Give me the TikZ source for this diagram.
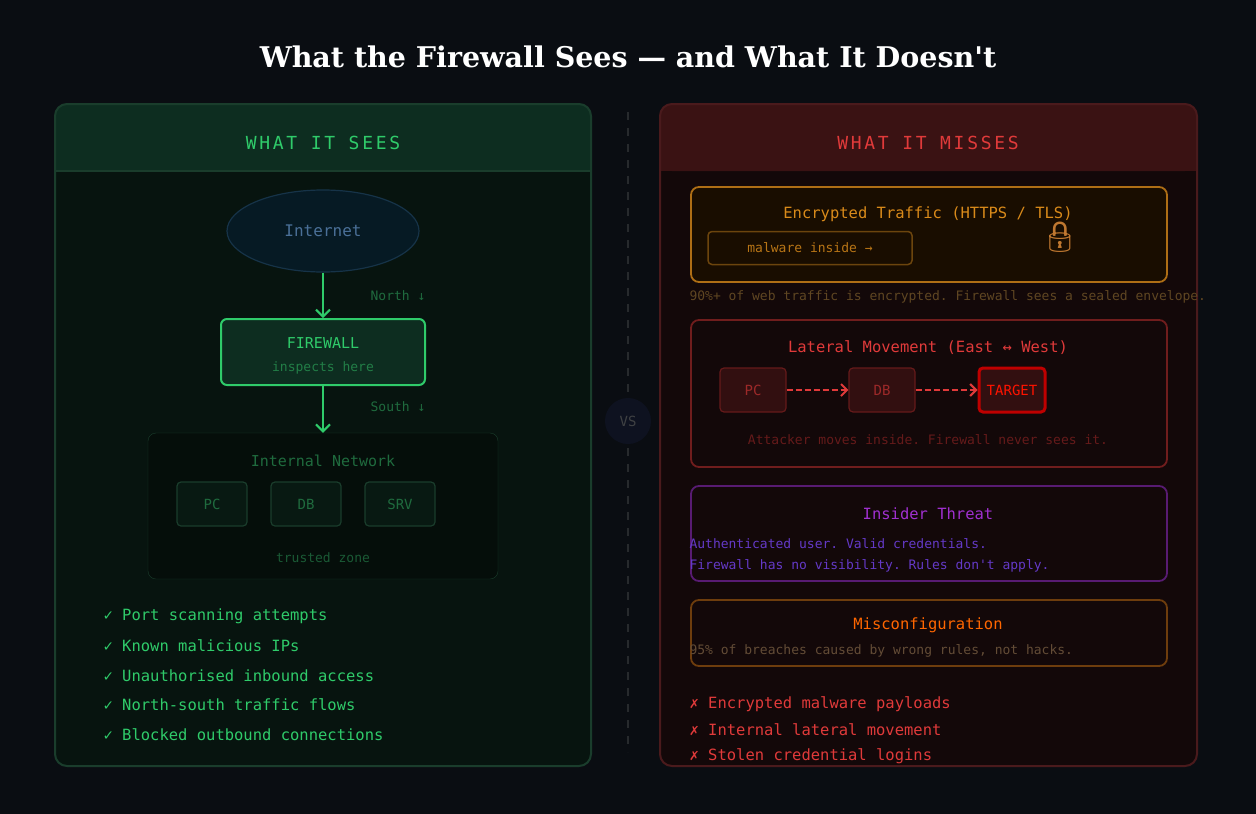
\documentclass[tikz,border=0pt]{standalone}
\usepackage{fontspec}
\setmonofont{DejaVu Sans Mono}
\newfontfamily\titlefont{DejaVu Serif}
\newfontfamily\emojifont{Noto Emoji}
\usetikzlibrary{arrows.meta,shapes.geometric}
\definecolor{bg}{HTML}{0A0D12}
\definecolor{gpanel}{HTML}{07140F}
\definecolor{ghead}{HTML}{0D2D20}
\definecolor{gborder}{HTML}{1A3D2C}
\definecolor{gtext}{HTML}{2FCB6A}
\definecolor{gdim}{HTML}{1F6B3E}
\definecolor{rpanel}{HTML}{130809}
\definecolor{rhead}{HTML}{3A1213}
\definecolor{rborder}{HTML}{4A1A1C}
\definecolor{rtext}{HTML}{E03A3A}
\definecolor{orng}{HTML}{D98A1A}
\definecolor{purp}{HTML}{A030D0}
\definecolor{vsfill}{HTML}{0E1220}
\definecolor{inetdraw}{HTML}{163348}
\definecolor{inetfill}{HTML}{061A24}
\definecolor{inettext}{HTML}{4A7098}
\definecolor{lockcol}{HTML}{C07830}
\newcommand{\fs}[1]{\fontsize{#1pt}{\dimexpr #1pt*5/4\relax}\selectfont}
\tikzset{
  mono/.style={font=\ttfamily\fs{14}},
  smallbox/.style={draw, rounded corners=4pt, line width=1.2pt, minimum width=70pt, minimum height=44pt, mono},
}
\begin{document}
\begin{tikzpicture}[x=1pt,y=-1pt]
\fill[bg] (0,0) rectangle (1256,814);
\useasboundingbox (0,0) rectangle (1256,814);
\node[text=white, font=\titlefont\bfseries\fs{28.5}] (title) at (628,57) {What the Firewall Sees — and What It Doesn't};
% divider
\draw[gray!25!bg, dash pattern=on 8pt off 8pt, line width=1.5pt] (628,112) -- (628,752);
\node[circle, fill=vsfill, minimum size=46pt, text=gray!45!bg, mono] (vs) at (628,421) {VS};
% left panel
\fill[gpanel, rounded corners=12pt] (55,104) rectangle (591,766);
\fill[ghead, rounded corners=12pt] (55,104) rectangle (591,171);
\fill[ghead] (55,150) rectangle (591,171);
\draw[gborder, line width=2pt, rounded corners=12pt] (55,104) rectangle (591,766);
\draw[gborder, line width=1.5pt] (55,171) -- (591,171);
\node[text=gtext, font=\ttfamily\fs{18}] (seeshead) at (323,143) {\addfontfeature{LetterSpace=15}WHAT IT SEES};
\node[ellipse, draw=inetdraw, fill=inetfill, line width=1.2pt, minimum width=192pt, minimum height=82pt, text=inettext, font=\ttfamily\fs{16}] (inet) at (323,231) {Internet};
\node[draw=gtext, fill=ghead, line width=2pt, rounded corners=6pt, minimum width=204pt, minimum height=66pt] (fw) at (323,352) {};
\node[text=gtext, font=\ttfamily\fs{15}] (fwl) at (323,343) {FIREWALL};
\node[text=gdim!80!gtext, font=\ttfamily\fs{13}] (fwi) at (323,368) {inspects here};
\node[draw=gborder, fill=black!30!gpanel, rounded corners=8pt, minimum width=350pt, minimum height=146pt] (net) at (323,506) {};
\draw[-{Straight Barb[length=7pt,width=14pt]}, gtext, line width=2pt] (inet) -- (fw);
\draw[-{Straight Barb[length=7pt,width=14pt]}, gtext, line width=2pt] (fw) -- (net.north);
\node[text=gdim, font=\ttfamily\fs{13}] (north) at (398,296) {North ↓};
\node[text=gdim, font=\ttfamily\fs{13}] (south) at (398,407) {South ↓};
\node[text=gdim, font=\ttfamily\fs{15}] (netl) at (323,461) {Internal Network};
\node[smallbox, draw=gborder, fill=gpanel!80!ghead, text=gdim] (pc) at (212,504) {PC};
\node[smallbox, draw=gborder, fill=gpanel!80!ghead, text=gdim] (db) at (306,504) {DB};
\node[smallbox, draw=gborder, fill=gpanel!80!ghead, text=gdim] (srv) at (400,504) {SRV};
\node[text=gdim!80!gpanel, font=\ttfamily\fs{13}] (tz) at (323,558) {trusted zone};
\foreach \t [count=\i] in {Port scanning attempts, Known malicious IPs, Unauthorised inbound access, North-south traffic flows, Blocked outbound connections}{
  \node[anchor=west, text=gtext, font=\ttfamily\fs{15.5}] (s\i) at (100,587+29.5*\i) {✓ \t};
}
% right panel
\fill[rpanel, rounded corners=12pt] (660,104) rectangle (1197,766);
\fill[rhead, rounded corners=12pt] (660,104) rectangle (1197,171);
\fill[rhead] (660,150) rectangle (1197,171);
\draw[rborder, line width=2pt, rounded corners=12pt] (660,104) rectangle (1197,766);
\node[text=rtext, font=\ttfamily\fs{18}] (misshead) at (928,143) {\addfontfeature{LetterSpace=15}WHAT IT MISSES};
% encrypted
\draw[orng!80!black, fill=orange!10!black, line width=1.8pt, rounded corners=8pt] (691,187) rectangle (1167,282);
\node[text=orng, font=\ttfamily\fs{15.5}] (enc) at (928,214) {Encrypted Traffic (HTTPS / TLS)};
\node[draw=orng!50!black, line width=1.5pt, rounded corners=4pt, minimum width=204pt, minimum height=33pt, text=orng!85!black, font=\ttfamily\fs{13}] (mal) at (810,248) {malware inside →};
\node[text=lockcol, font=\emojifont\fs{30}] (lock) at (1060,237) {🔒};
\node[anchor=west, text=orng!40!black!80!gray, font=\ttfamily\fs{13}] (encn) at (686,297) {90\%+ of web traffic is encrypted. Firewall sees a sealed envelope.};
% lateral
\draw[rtext!50!black, line width=1.8pt, rounded corners=8pt] (691,320) rectangle (1167,467);
\node[text=rtext, font=\ttfamily\fs{15.5}] (lat) at (928,348) {Lateral Movement (East ↔ West)};
\node[smallbox, minimum width=66pt, draw=rtext!45!black, fill=rtext!15!rpanel, text=rtext!70!black] (lpc) at (753,390) {PC};
\node[smallbox, minimum width=66pt, draw=rtext!45!black, fill=rtext!15!rpanel, text=rtext!70!black] (ldb) at (882,390) {DB};
\node[smallbox, minimum width=66pt, draw=red!75!black, line width=3pt, fill=rtext!15!rpanel, text=red!85!orange] (tgt) at (1012,390) {TARGET};
\draw[-{Straight Barb[length=6pt,width=12pt]}, rtext, dash pattern=on 6pt off 3pt, line width=2pt] (lpc) -- (ldb);
\draw[-{Straight Barb[length=6pt,width=12pt]}, rtext, dash pattern=on 6pt off 3pt, line width=2pt] (ldb) -- (tgt);
\node[text=rtext!45!black, font=\ttfamily\fs{13}] (latn) at (928,440) {Attacker moves inside. Firewall never sees it.};
% insider
\draw[purp!55!black, line width=1.8pt, rounded corners=8pt] (691,486) rectangle (1167,581);
\node[text=purp, font=\ttfamily\fs{15.5}] (ins) at (928,514) {Insider Threat};
\node[anchor=west, text=purp!55!blue!70!gray, font=\ttfamily\fs{13}] (ins1) at (686,544) {Authenticated user. Valid credentials.};
\node[anchor=west, text=purp!55!blue!70!gray, font=\ttfamily\fs{13}] (ins2) at (686,566) {Firewall has no visibility. Rules don't apply.};
% misconfig
\draw[orange!35!black!80!brown, line width=1.8pt, rounded corners=8pt] (691,600) rectangle (1167,666);
\node[text=orange!80!red, font=\ttfamily\fs{15.5}] (mis) at (928,625) {Misconfiguration};
\node[anchor=west, text=gray!40!brown!60!black, font=\ttfamily\fs{13}] (misn) at (686,651) {95\% of breaches caused by wrong rules, not hacks.};
\foreach \t [count=\i] in {Encrypted malware payloads, Internal lateral movement, Stolen credential logins}{
  \node[anchor=west, text=rtext, font=\ttfamily\fs{15.5}] (m\i) at (686,678+26*\i) {✗ \t};
}
\end{tikzpicture}
\end{document}
